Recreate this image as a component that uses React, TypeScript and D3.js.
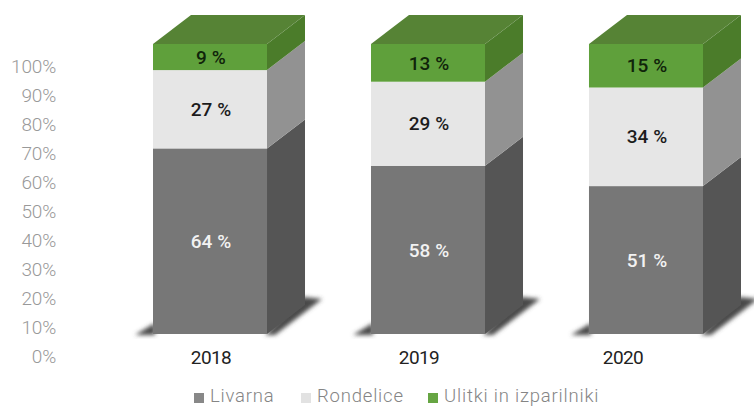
import React from "react";
import * as d3 from "d3";

const years = ["2018", "2019", "2020"];
const seriesNames = ["Livarna", "Rondelice", "Ulitki in izparilniki"];
const livarna = [64, 58, 51];
const rondelice = [27, 29, 34];
const ulitki = [9, 13, 15];
const axisTicks = [0, 10, 20, 30, 40, 50, 60, 70, 80, 90, 100];

const frontColors = ["#777777", "#e6e6e6", "#5fa03a"];
const sideColors = ["#555555", "#929292", "#4b7c2c"];
const topColor = "#568335";
const labelColors = ["#f2f2f2", "#1c1c1c", "#10240a"];
const legendColors = ["#888888", "#e2e2e2", "#66a543"];
const legendSquareX = [194, 301, 428];
const yearLabelX = [211, 419, 623];

const FONT = "Roboto, sans-serif";
const DX = 38;
const DY = 29;

export default function App() {
  const x = d3.scaleBand<string>().domain(years).range([153, 703]).paddingInner(0.477).paddingOuter(0);
  const yearX = d3.scaleOrdinal<string, number>().domain(years).range(yearLabelX);
  const y = d3.scaleLinear().domain([0, 100]).range([334, 44]);
  const tickY = d3.scaleLinear().domain([0, 100]).range([356, 66]);
  const stack = d3.stack<number>().keys(["0", "1", "2"]).value((i, k) => [livarna, rondelice, ulitki][+k][i]);
  const layers = stack([0, 1, 2]);
  const bw = x.bandwidth();
  const line = d3.line();

  return (
    <svg width={754} height={406} style={{ position: "absolute", left: 0, top: 0, background: "#fff" }}>
      <defs>
        <filter id="sh" x="-30%" y="-30%" width="160%" height="160%">
          <feGaussianBlur stdDeviation="2" />
        </filter>
        <filter id="soft" x="-5%" y="-5%" width="110%" height="110%">
          <feGaussianBlur stdDeviation="0.35" />
        </filter>
      </defs>

      {axisTicks.map((t) => (
        <text key={t} x={56} y={tickY(t)} dy="0.35em" textAnchor="end" fontFamily={FONT} fontWeight={300} fontSize={19} letterSpacing={-0.2} fill="#999999">
          {t}%
        </text>
      ))}

      {years.map((yr, i) => {
        const x0 = x(yr)!;
        const x1 = x0 + bw;
        const base = y(0);
        return (
          <g key={yr}>
            <path
              d={line([[x0 - 18, base + 1], [x0 + 2, base - 11], [x0 + 2, base + 1]])! + "Z"}
              fill="#4a4a4a"
              filter="url(#sh)"
            />
            <path
              d={line([[x1 - 2, base + 1], [x1 + 8, base + 1], [x1 + 55, base - 35], [x1 + 36, base - 37]])! + "Z"}
              fill="#4a4a4a"
              filter="url(#sh)"
            />
            <g filter="url(#soft)">
              {layers.map((l, k) => {
                const [v0, v1] = l[i];
                const yb = y(v0);
                const yt = y(v1);
                return (
                  <g key={k}>
                    <rect x={x0} y={yt} width={bw} height={yb - yt} fill={frontColors[k]} />
                    <path
                      d={line([[x1, yt], [x1 + DX, yt - DY], [x1 + DX, yb - DY], [x1, yb]])! + "Z"}
                      fill={sideColors[k]}
                    />
                  </g>
                );
              })}
              <path
                d={line([[x0, y(100)], [x0 + DX, y(100) - DY], [x1 + DX, y(100) - DY], [x1, y(100)]])! + "Z"}
                fill={topColor}
              />
            </g>
            {layers.map((l, k) => {
              const [v0, v1] = l[i];
              return (
                <text
                  key={k}
                  x={x0 + bw / 2 + 1}
                  y={(y(v0) + y(v1)) / 2}
                  dy="0.35em"
                  textAnchor="middle"
                  fontFamily={FONT}
                  fontWeight={500}
                  fontSize={19}
                  letterSpacing={0.1}
                  fill={labelColors[k]}
                >
                  {v1 - v0} %
                </text>
              );
            })}
            <text x={yearX(yr)} y={357} dy="0.35em" textAnchor="middle" fontFamily={FONT} fontSize={19} letterSpacing={-0.6} fill="#222">
              {yr}
            </text>
          </g>
        );
      })}

      {seriesNames.map((n, i) => (
        <g key={n}>
          <rect x={legendSquareX[i]} y={393} width={10} height={10} fill={legendColors[i]} />
          <text x={legendSquareX[i] + 16} y={395.5} dy="0.35em" fontFamily={FONT} fontWeight={300} fontSize={18.5} letterSpacing={0.8} fill="#858585">
            {n}
          </text>
        </g>
      ))}
    </svg>
  );
}
